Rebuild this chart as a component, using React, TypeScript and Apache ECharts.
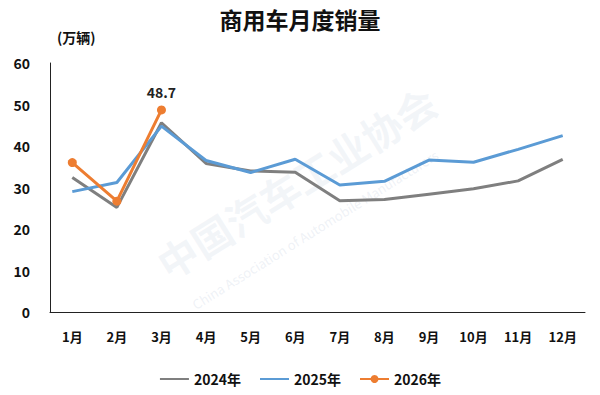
import React, { useEffect, useRef } from "react";
import * as echarts from "echarts";

const months = ["1月", "2月", "3月", "4月", "5月", "6月", "7月", "8月", "9月", "10月", "11月", "12月"];
const sales2024 = [32.4, 25.2, 45.6, 35.8, 34.0, 33.7, 26.8, 27.1, 28.4, 29.7, 31.6, 36.8];
const sales2025 = [29.0, 31.2, 44.8, 36.5, 33.6, 36.8, 30.6, 31.5, 36.6, 36.1, 39.2, 42.5];
const sales2026 = [36.0, 26.7, 48.7];
const yTicks = [0, 10, 20, 30, 40, 50, 60];

const FONT = "'Noto Sans CJK SC', 'Noto Sans', sans-serif";

export default function App() {
  const ref = useRef<HTMLDivElement>(null);
  useEffect(() => {
    if (!ref.current) return;
    const chart = echarts.init(ref.current, undefined, { renderer: "svg" });
    chart.setOption({
      animation: false,
      backgroundColor: "#ffffff",
      textStyle: { fontFamily: FONT },
      title: {
        text: "商用车月度销量",
        left: "center",
        top: 2,
        textStyle: { fontFamily: FONT, fontSize: 23, fontWeight: "bold", color: "#111" },
      },
      graphic: [
        {
          type: "text",
          left: 57,
          top: 30,
          style: { text: "(万辆)", fontFamily: FONT, fontSize: 14, fontWeight: "bold", fill: "#111" },
        },
        {
          type: "text",
          x: 150,
          y: 250,
          rotation: (Math.PI / 180) * 32,
          style: {
            text: "中国汽车工业协会",
            fontFamily: FONT,
            fontSize: 40,
            fontWeight: "bold",
            fill: "rgba(200,210,225,0.22)",
          },
        },
        {
          type: "text",
          x: 190,
          y: 300,
          rotation: (Math.PI / 180) * 32,
          style: {
            text: "China Association of Automobile Manufacturers",
            fontFamily: FONT,
            fontSize: 13,
            fill: "rgba(200,210,225,0.3)",
          },
        },
      ],
      legend: {
        bottom: 4,
        left: "center",
        itemWidth: 29,
        itemHeight: 10,
        itemGap: 18,
        textStyle: { fontFamily: FONT, fontSize: 14, fontWeight: "bold", color: "#111" },
        data: [
          { name: "2024年", itemStyle: { opacity: 0 } },
          { name: "2025年", itemStyle: { opacity: 0 } },
          { name: "2026年" },
        ],
      },
      grid: { left: 50, right: 15, top: 63, bottom: 83, containLabel: false },
      xAxis: {
        type: "category",
        data: months,
        boundaryGap: true,
        axisLine: { lineStyle: { color: "#222", width: 1 } },
        axisTick: { show: false },
        axisLabel: { margin: 18, fontFamily: FONT, fontSize: 13, fontWeight: "bold", color: "#111" },
      },
      yAxis: {
        type: "value",
        min: yTicks[0],
        max: yTicks[yTicks.length - 1],
        interval: 10,
        axisLine: { show: true, lineStyle: { color: "#222", width: 1 } },
        axisTick: { show: false },
        splitLine: { show: false },
        axisLabel: { margin: 20, fontFamily: FONT, fontSize: 14, fontWeight: "bold", color: "#111" },
      },
      series: [
        {
          name: "2024年",
          type: "line",
          data: sales2024,
          symbol: "none",
          lineStyle: { color: "#7f7f7f", width: 3 },
          itemStyle: { color: "#7f7f7f" },
        },
        {
          name: "2025年",
          type: "line",
          data: sales2025,
          symbol: "none",
          lineStyle: { color: "#5b9bd5", width: 3 },
          itemStyle: { color: "#5b9bd5" },
        },
        {
          name: "2026年",
          type: "line",
          data: sales2026.map((v, i) =>
            i === sales2026.length - 1
              ? {
                  value: v,
                  label: {
                    show: true,
                    position: "top",
                    distance: 6,
                    fontFamily: FONT,
                    fontSize: 14,
                    fontWeight: "bold",
                    color: "#222",
                  },
                }
              : v
          ),
          symbol: "circle",
          symbolSize: 9,
          lineStyle: { color: "#ed7d31", width: 3 },
          itemStyle: { color: "#ed7d31" },
        },
      ],
    });
    return () => chart.dispose();
  }, []);
  return <div ref={ref} style={{ width: 600, height: 395, position: "absolute", left: 0, top: 0 }} />;
}
